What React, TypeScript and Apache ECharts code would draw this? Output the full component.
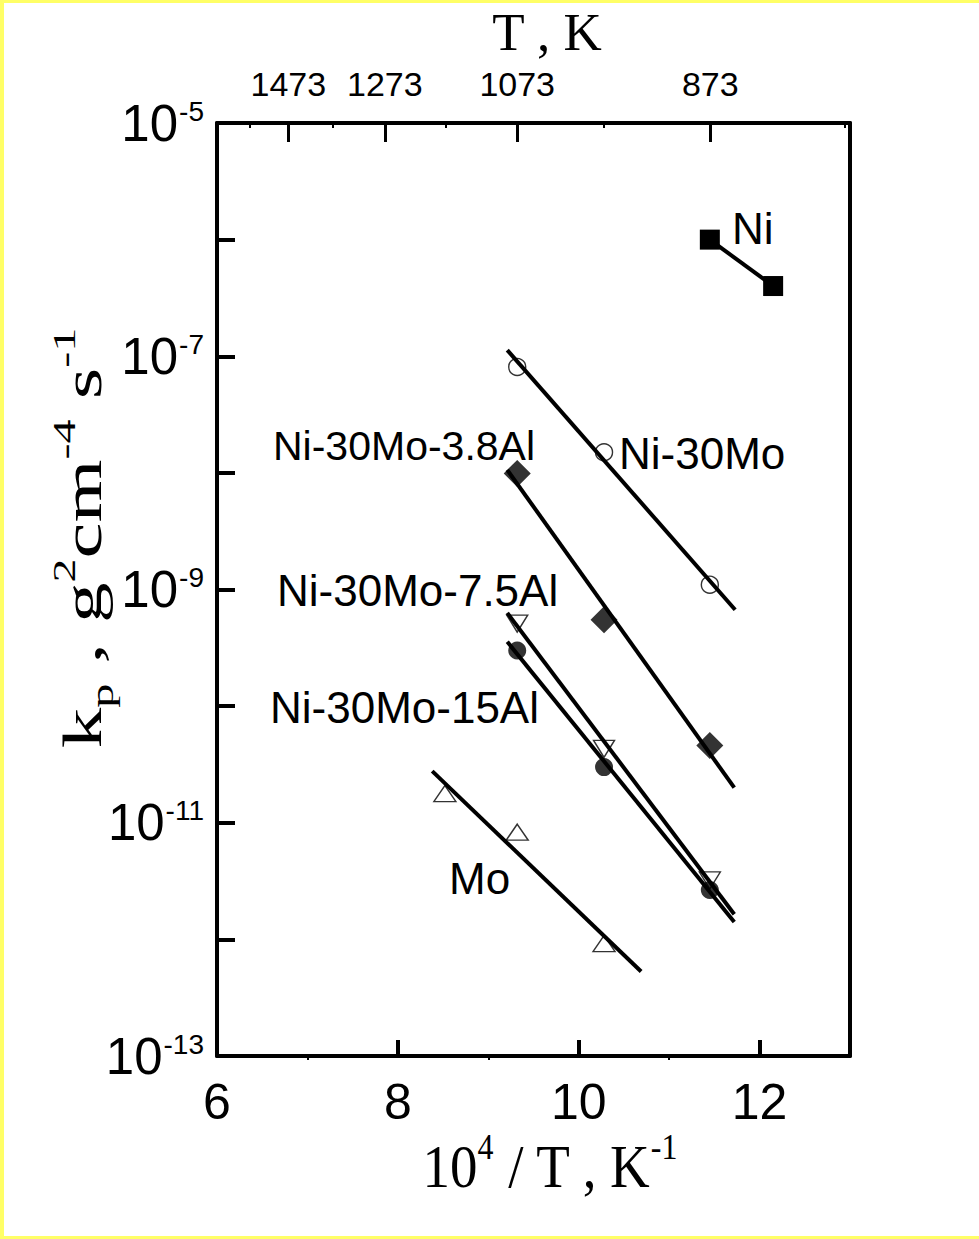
import React, { useEffect, useRef } from 'react';
import * as echarts from 'echarts';

// ---- axis tick data ----
const xLabelValues = [6, 8, 10, 12];
const xMajorTicks = [8, 10, 12];
const xMinorTicks = [7, 9, 11];
const topTempMajorK = [1473, 1273, 1073, 873];
const topTempMinorK = [1573, 1373, 1173, 973, 773];
const yLabelExps = [-13, -11, -9, -7, -5];

// ---- data (x = 10^4/T, y = kp) ----
const niX = [11.45, 12.15];
const niKp = [1.0e-6, 4.0e-7];

const ni30MoX = [9.32, 10.28, 11.45];
const ni30MoKp = [8.1e-8, 1.5e-8, 1.1e-9];
const ni30MoFitX = [9.21, 11.73];
const ni30MoFitKp = [1.13e-7, 6.7e-10];

const al38X = [9.32, 10.28, 11.45];
const al38Kp = [9.9e-9, 5.5e-10, 4.6e-11];
const al38FitX = [9.21, 11.72];
const al38FitKp = [1.06e-8, 2.0e-11];

const al75X = [9.32, 10.28, 11.45];
const al75Kp = [5.1e-10, 4.3e-11, 3.2e-12];
const al75FitX = [9.21, 11.72];
const al75FitKp = [6.3e-10, 1.64e-12];

const al15X = [9.32, 10.28, 11.45];
const al15Kp = [3.0e-10, 3.0e-11, 2.65e-12];
const al15FitX = [9.21, 11.72];
const al15FitKp = [3.56e-10, 1.41e-12];

const moX = [8.52, 9.32, 10.28];
const moKp = [1.78e-11, 8.3e-12, 9.2e-13];
const moFitX = [8.38, 10.69];
const moFitKp = [2.77e-11, 5.3e-13];

const SANS = '"Liberation Sans", Arial, sans-serif';
const SERIF = '"Liberation Serif", "Times New Roman", serif';
const YELLOW = '#ffff66';

function measure(text: string, size: number): number {
  const c = document.createElement('canvas').getContext('2d');
  if (!c) return text.length * size * 0.55;
  c.font = `${size}px "Liberation Sans", Arial, sans-serif`;
  return c.measureText(text).width;
}

export default function App() {
  const ref = useRef<HTMLDivElement>(null);
  useEffect(() => {
    document.body.style.margin = '0';
    const chart = echarts.init(ref.current!, null, { renderer: 'svg' });
    const pts = (xs: number[], ys: number[]) => xs.map((x, i) => [x, Math.log10(ys[i])]);
    const fit = (xs: number[], ys: number[]) => ({
      type: 'line', data: pts(xs, ys), symbol: 'none', silent: true,
      lineStyle: { color: '#000', width: 4 }, z: 2,
    });
    const hollow = { color: 'rgba(0,0,0,0)', borderColor: '#000', borderWidth: 1.4 };
    const gridRect = { left: 217, right: 129, top: 123, bottom: 183 };
    const txt = (text: string, x: number, y: number, fontSize = 43) => ({
      type: 'text', x, y, z: 50,
      style: { text, fill: '#000', fontSize, fontFamily: SANS, align: 'left', verticalAlign: 'middle', textAlign: 'left', textVerticalAlign: 'middle' },
    });
    const option: any = {
      animation: false,
      backgroundColor: '#ffffff',
      grid: [gridRect, gridRect],
      xAxis: [
        {
          type: 'value', gridIndex: 0, position: 'bottom', min: 6, max: 13,
          axisLine: { show: true, onZero: false, lineStyle: { color: '#000', width: 4 } },
          axisTick: { show: true, inside: true, length: 16, customValues: xMajorTicks, lineStyle: { color: '#000', width: 4 } },
          axisLabel: { show: true, customValues: xLabelValues, fontSize: 50, fontFamily: SANS, color: '#000', margin: 21 },
          splitLine: { show: false },
        },
        {
          type: 'value', gridIndex: 0, position: 'top', min: 6, max: 13,
          axisLine: { show: true, onZero: false, lineStyle: { color: '#000', width: 4 } },
          axisTick: { show: true, inside: true, length: 19, customValues: topTempMajorK.map((t) => 1e4 / t), lineStyle: { color: '#000', width: 3 } },
          axisLabel: {
            show: true, customValues: topTempMajorK.map((t) => 1e4 / t),
            formatter: (v: number) => String(Math.round(1e4 / v)),
            fontSize: 34, fontFamily: SANS, color: '#000', margin: 22,
          },
          splitLine: { show: false },
        },
        {
          type: 'value', gridIndex: 1, position: 'top', min: 6, max: 13,
          axisLine: { show: false },
          axisTick: { show: true, inside: true, length: 5, customValues: topTempMinorK.map((t) => 1e4 / t), lineStyle: { color: '#000', width: 2 } },
          axisLabel: { show: false }, splitLine: { show: false },
        },
        {
          type: 'value', gridIndex: 1, position: 'bottom', min: 6, max: 13,
          axisLine: { show: false },
          axisTick: { show: true, inside: false, length: 4, customValues: xMinorTicks, lineStyle: { color: '#000', width: 2 } },
          axisLabel: { show: false }, splitLine: { show: false },
        },
      ],
      yAxis: [
        {
          type: 'value', gridIndex: 0, position: 'left', min: -13, max: -5, interval: 1,
          axisLine: { show: true, onZero: false, lineStyle: { color: '#000', width: 4 } },
          axisTick: { show: true, inside: true, length: 18, lineStyle: { color: '#000', width: 4 } },
          axisLabel: { show: false },
          splitLine: { show: false },
        },
        {
          type: 'value', gridIndex: 0, position: 'right', min: -13, max: -5,
          axisLine: { show: true, onZero: false, lineStyle: { color: '#000', width: 4 } },
          axisTick: { show: false }, axisLabel: { show: false }, splitLine: { show: false },
        },
        {
          type: 'value', gridIndex: 1, min: -13, max: -5, show: false,
        },
      ],
      series: [
        fit(ni30MoFitX, ni30MoFitKp),
        fit(al38FitX, al38FitKp),
        fit(al75FitX, al75FitKp),
        fit(al15FitX, al15FitKp),
        fit(moFitX, moFitKp),
        {
          type: 'line', data: pts(niX, niKp), symbol: 'rect', symbolSize: 20, silent: true,
          itemStyle: { color: '#000' }, lineStyle: { color: '#000', width: 4 }, z: 3,
        },
        { type: 'scatter', data: pts(ni30MoX, ni30MoKp), symbol: 'circle', symbolSize: 17, itemStyle: hollow, silent: true, z: 3 },
        { type: 'scatter', data: pts(al38X, al38Kp), symbol: 'diamond', symbolSize: [27, 27], itemStyle: { color: '#000' }, silent: true, z: 3 },
        { type: 'scatter', data: pts(al75X, al75Kp), symbol: 'triangle', symbolRotate: 180, symbolSize: [21, 17], itemStyle: hollow, silent: true, z: 3 },
        { type: 'scatter', data: pts(al15X, al15Kp), symbol: 'circle', symbolSize: 18, itemStyle: { color: '#000' }, silent: true, z: 3 },
        { type: 'scatter', data: pts(moX, moKp), symbol: 'triangle', symbolSize: [22, 16], itemStyle: hollow, silent: true, z: 3 },
      ],
    };
    chart.setOption(option);

    // y tick labels (10^n), placed at the axis' own pixel positions
    const yLabelEls: any[] = [];
    const labelRight = 204;
    yLabelExps.forEach((e) => {
      const py = chart.convertToPixel({ yAxisIndex: 0 }, e) as number;
      const supText = String(e);
      const supW = measure(supText, 28);
      yLabelEls.push({
        type: 'text', x: labelRight, y: py - 12, z: 50,
        style: { text: supText, fill: '#000', fontSize: 28, fontFamily: SANS, align: 'right', verticalAlign: 'middle', textAlign: 'right', textVerticalAlign: 'middle' },
      });
      yLabelEls.push({
        type: 'text', x: labelRight - supW - 1, y: py, z: 50,
        style: { text: '10', fill: '#000', fontSize: 51, fontFamily: SANS, align: 'right', verticalAlign: 'middle', textAlign: 'right', textVerticalAlign: 'middle' },
      });
    });

    const graphics: any[] = [
      { type: 'rect', shape: { x: 0, y: 0, width: 979, height: 3 }, style: { fill: YELLOW }, z: 100 },
      { type: 'rect', shape: { x: 0, y: 0, width: 4, height: 1239 }, style: { fill: YELLOW }, z: 100 },
      { type: 'rect', shape: { x: 0, y: 1236, width: 979, height: 3 }, style: { fill: YELLOW }, z: 100 },
      txt('Ni', 732, 228, 44),
      txt('Ni-30Mo', 619, 453, 44),
      txt('Ni-30Mo-3.8Al', 273, 446, 41),
      txt('Ni-30Mo-7.5Al', 277, 590, 44),
      txt('Ni-30Mo-15Al', 270, 707, 44),
      txt('Mo', 449, 878, 44),
      ...yLabelEls,
      {
        type: 'text', x: 547, y: 32, z: 50,
        style: { text: 'T , K', fill: '#000', fontSize: 53, lineHeight: 54, fontFamily: SERIF, align: 'center', verticalAlign: 'middle', textAlign: 'center', textVerticalAlign: 'middle' },
      },
      {
        type: 'text', x: 550, y: 1166, scaleY: 1.12, z: 50,
        style: {
          text: '{n|10}{p|4}{n| / T , K}{p|-1}', fill: '#000', align: 'center', verticalAlign: 'middle', textAlign: 'center', textVerticalAlign: 'middle',
          rich: {
            n: { fontSize: 55, fontFamily: SERIF, fill: '#000', lineHeight: 66, verticalAlign: 'middle' },
            p: { fontSize: 32, fontFamily: SERIF, fill: '#000', lineHeight: 32, verticalAlign: 'top' },
          },
        },
      },
      {
        type: 'text', x: 83, y: 538, rotation: Math.PI / 2, scaleX: 1.5, z: 50,
        style: {
          text: '{n|k}{b|p}{n| , g}{p|2}{n|cm}{p|-4}{n| s}{p|-1}', fill: '#000', align: 'center', verticalAlign: 'middle', textAlign: 'center', textVerticalAlign: 'middle',
          rich: {
            n: { fontSize: 54, fontFamily: SERIF, fill: '#000', lineHeight: 70, verticalAlign: 'middle' },
            p: { fontSize: 32, fontFamily: SERIF, fill: '#000', lineHeight: 32, verticalAlign: 'top' },
            b: { fontSize: 32, fontFamily: SERIF, fill: '#000', lineHeight: 32, verticalAlign: 'bottom' },
          },
        },
      },
    ];
    chart.setOption({ graphic: graphics });
    return () => chart.dispose();
  }, []);
  return <div ref={ref} style={{ width: 979, height: 1239 }} />;
}
